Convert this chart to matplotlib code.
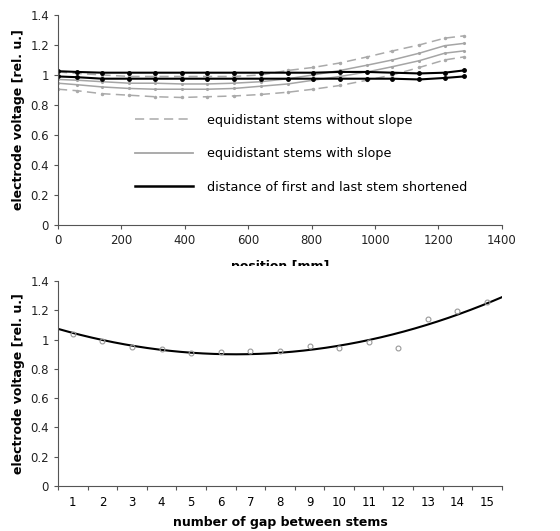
import numpy as np
import matplotlib
matplotlib.use("Agg")
import matplotlib.pyplot as plt
from matplotlib.transforms import Bbox, TransformedBbox

plt.rcParams['font.family'] = ['DejaVu Sans']

# ---- top chart data ----
position = [0, 60, 140, 225, 305, 390, 470, 555, 640, 725, 805, 890, 975, 1055, 1140, 1220, 1280]
noslope_hi = [1.02, 1.01, 1.0, 0.99, 0.99, 0.99, 0.99, 0.99, 1.0, 1.03, 1.05, 1.08, 1.12, 1.16, 1.20, 1.245, 1.26]
noslope_lo = [0.905, 0.895, 0.875, 0.865, 0.855, 0.85, 0.855, 0.86, 0.87, 0.885, 0.905, 0.93, 0.965, 1.0, 1.05, 1.10, 1.12]
slope_hi = [0.97, 0.965, 0.955, 0.945, 0.945, 0.94, 0.94, 0.945, 0.955, 0.975, 1.0, 1.03, 1.065, 1.10, 1.145, 1.195, 1.21]
slope_lo = [0.945, 0.935, 0.92, 0.91, 0.905, 0.905, 0.905, 0.91, 0.925, 0.94, 0.965, 0.99, 1.02, 1.055, 1.095, 1.145, 1.16]
short_hi = [1.025, 1.02, 1.015, 1.015, 1.015, 1.015, 1.015, 1.015, 1.015, 1.015, 1.015, 1.02, 1.02, 1.015, 1.01, 1.015, 1.03]
short_lo = [0.99, 0.985, 0.975, 0.975, 0.975, 0.975, 0.975, 0.975, 0.975, 0.975, 0.975, 0.975, 0.975, 0.975, 0.97, 0.98, 0.99]

legend_labels = ["equidistant stems without slope",
                 "equidistant stems with slope",
                 "distance of first and last stem shortened"]

# ---- bottom chart data ----
gap = [1, 2, 3, 4, 5, 6, 7, 8, 9, 10, 11, 12, 13, 14, 15]
gap_voltage = [1.04, 0.99, 0.95, 0.935, 0.91, 0.915, 0.92, 0.92, 0.955, 0.945, 0.98, 0.945, 1.14, 1.195, 1.255]

fig = plt.figure(figsize=(5.6, 5.31), dpi=100)
spine_col = '#555555'
tick_fs = 8.5
lab_fs = 9

ax1 = fig.add_axes([0.1036, 0.576, 0.7925, 0.396])
gray_d = '#aaaaaa'
gray_s = '#a5a5a5'
ax1.plot(position, noslope_hi, color=gray_d, ls=(0, (6, 3.5)), lw=1.1, marker='.', ms=3)
ax1.plot(position, noslope_lo, color=gray_d, ls=(0, (6, 3.5)), lw=1.1, marker='.', ms=3)
ax1.plot(position, slope_hi, color=gray_s, lw=1.1, marker='.', ms=2.5)
ax1.plot(position, slope_lo, color=gray_s, lw=1.1, marker='.', ms=2.5)
ax1.plot(position, short_hi, color='black', lw=1.5, marker='o', ms=2.5)
ax1.plot(position, short_lo, color='black', lw=1.5, marker='o', ms=2.5)

h1 = plt.Line2D([], [], color=gray_d, ls=(0, (6, 3.5)), lw=1.1)
h2 = plt.Line2D([], [], color=gray_s, lw=1.3)
h3 = plt.Line2D([], [], color='black', lw=1.8)
ax1.legend([h1, h2, h3], legend_labels, loc='upper left', bbox_to_anchor=(0.158, 0.56),
           frameon=False, fontsize=9.2, handlelength=4.6, handletextpad=1.05,
           labelspacing=1.6, borderpad=0)

ax1.set_xlim(0, 1400)
ax1.set_ylim(0, 1.4)
ax1.set_xticks(np.arange(0, 1401, 200))
ax1.set_yticks([0, 0.2, 0.4, 0.6, 0.8, 1.0, 1.2, 1.4])
ax1.set_yticklabels(['0', '0.2', '0.4', '0.6', '0.8', '1', '1.2', '1.4'])
ax1.set_ylabel('electrode voltage [rel. u.]', fontsize=lab_fs, fontweight='bold', labelpad=4)
ax1.set_xlabel('position [mm]', fontsize=lab_fs, fontweight='bold', labelpad=9)
clip = TransformedBbox(Bbox([[0, 0.5], [1, 1]]), fig.transFigure)
ax1.xaxis.label.set_clip_box(clip)
ax1.xaxis.label.set_clip_on(True)

ax2 = fig.add_axes([0.1036, 0.0847, 0.7925, 0.3863])
coef = np.polyfit(gap, gap_voltage, 2)
xf = np.linspace(0.5, 15.5, 200)
ax2.plot(xf, np.polyval(coef, xf), color='black', lw=1.5)
ax2.plot(gap, gap_voltage, ls='none', marker='o', ms=3.5, mfc='none', mec='#999999', mew=0.8)
ax2.set_xlim(0.5, 15.5)
ax2.set_ylim(0, 1.4)
ax2.set_xticks(np.arange(0.5, 15.6, 1.0))
ax2.set_xticklabels([])
ax2.set_xticks(gap, minor=True)
ax2.set_xticklabels([str(g) for g in gap], minor=True)
ax2.tick_params(axis='x', which='minor', length=0, labelsize=tick_fs, pad=7)
ax2.set_yticks([0, 0.2, 0.4, 0.6, 0.8, 1.0, 1.2, 1.4])
ax2.set_yticklabels(['0', '0.2', '0.4', '0.6', '0.8', '1', '1.2', '1.4'])
ax2.set_ylabel('electrode voltage [rel. u.]', fontsize=lab_fs, fontweight='bold', labelpad=4)
ax2.set_xlabel('number of gap between stems', fontsize=lab_fs, fontweight='bold', labelpad=5)

for ax in (ax1, ax2):
    for s in ('top', 'right'):
        ax.spines[s].set_visible(False)
    for s in ('left', 'bottom'):
        ax.spines[s].set_color(spine_col)
        ax.spines[s].set_linewidth(0.8)
    ax.tick_params(axis='both', which='major', length=3, width=0.8, color=spine_col,
                   labelsize=tick_fs, colors='#222222')

fig.savefig('out.png', dpi=100, facecolor='white')
